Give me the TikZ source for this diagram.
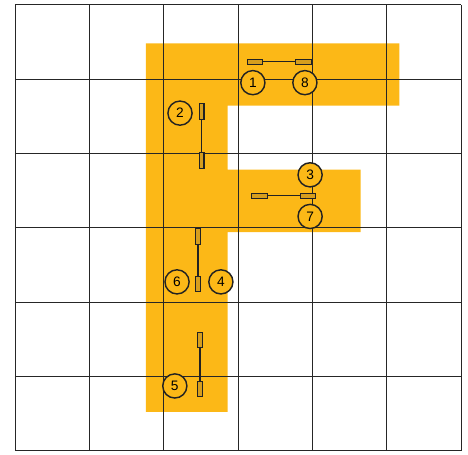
\documentclass[tikz,border=0pt]{standalone}
\usepackage{fontspec}
\setmainfont{Liberation Sans}
\usetikzlibrary{positioning}
\usepackage{xcolor}
\definecolor{FGold}{HTML}{FCB817}
\definecolor{PadGold}{HTML}{D69E1E}
\definecolor{WireDark}{HTML}{222222}

\begin{document}
\begin{tikzpicture}[
				x=2cm, y=2cm,
				gridline/.style={
					draw=black!85,
					line width=0.55pt
				},
				pad/.style={
					draw=WireDark,
					fill=PadGold,
					line width=0.8pt,
					inner sep=0pt
				},
				hpad/.style={
					pad,
					minimum width=0.42cm,
					minimum height=0.13cm
				},
				vpad/.style={
					pad,
					minimum width=0.13cm,
					minimum height=0.42cm
				},
				wire/.style={
					draw=WireDark,
					line width=1pt
				},
				tag/.style={
					circle,
					draw=WireDark,
					fill=FGold,
					line width=1.1pt,
					minimum size=0.65cm,
					inner sep=0pt,
					font=\fontsize{10.5}{12}\selectfont
				}
				]
				
				\useasboundingbox (-0.2016,-0.054) rectangle (6.094,6.062);
				
				% the F
				\fill[FGold] (1.76,0.52) -- (2.86,0.52) -- (2.86,2.94)
				-- (4.65,2.94) -- (4.65,3.78) -- (2.86,3.78)
				-- (2.86,4.64) -- (5.17,4.64) -- (5.17,5.48)
				-- (1.76,5.48) -- cycle;
				
				\draw[gridline, step=2cm] (0,0) grid (6,6);
				
				% pads
				\node[hpad] (t1) at (3.23,5.23) {};
				\node[hpad] (t2) at (3.88,5.23) {};
				\node[vpad] (u1) at (2.51,4.56) {};
				\node[vpad] (u2) at (2.51,3.90) {};
				\node[hpad] (m1) at (3.29,3.43) {};
				\node[hpad] (m2) at (3.94,3.43) {};
				\node[vpad] (l1) at (2.46,2.88) {};
				\node[vpad] (l2) at (2.46,2.24) {};
				\node[vpad] (b1) at (2.49,1.49) {};
				\node[vpad] (b2) at (2.49,0.83) {};
				
				\draw[wire] (t1) -- (t2);
				\draw[wire] (u1) -- (u2);
				\draw[wire] (m1) -- (m2);
				\draw[wire] (l1) -- (l2);
				\draw[wire] (b1) -- (b2);
				
				% numbered tags
				\node[tag] (c1) at (3.20,4.95) {1};
				\node[tag] (c8) at (3.90,4.95) {8};
				\node[tag] (c2) at (2.22,4.54) {2};
				\node[tag] (c3) at (3.97,3.71) {3};
				\node[tag] (c7) at (3.97,3.15) {7};
				\node[tag] (c6) at (2.18,2.27) {6};
				\node[tag] (c4) at (2.77,2.27) {4};
				\node[tag] (c5) at (2.15,0.87) {5};
				
			\end{tikzpicture}
\end{document}
